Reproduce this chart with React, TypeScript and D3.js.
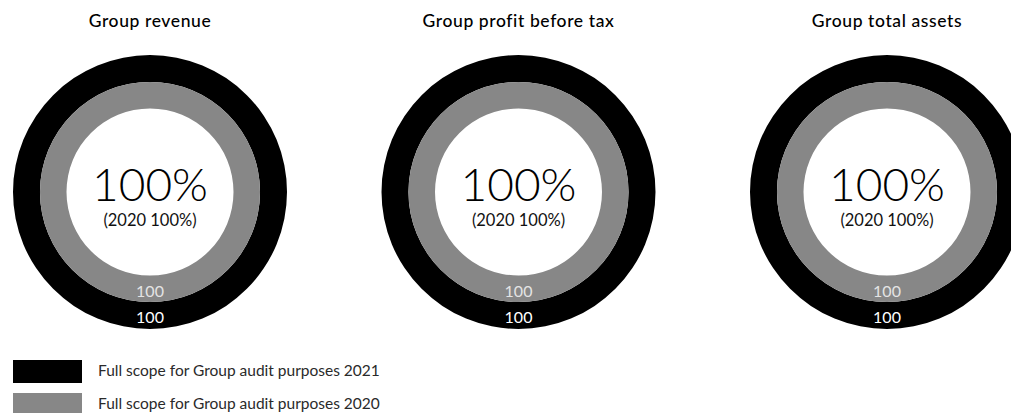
import { useEffect, useRef } from "react";
import * as d3 from "d3";

const titles = ["Group revenue", "Group profit before tax", "Group total assets"];
const scope2021 = [100, 100, 100];
const scope2020 = [100, 100, 100];
const legendLabels = [
  "Full scope for Group audit purposes 2021",
  "Full scope for Group audit purposes 2020",
];

const W = 1011;
const H = 413;
const BLACK = "#000000";
const GREY = "#878787";
const FONT = "Lato, 'Open Sans', sans-serif";

export default function App() {
  const ref = useRef<SVGSVGElement | null>(null);

  useEffect(() => {
    const svg = d3.select(ref.current);
    svg.selectAll("*").remove();

    const x = d3.scalePoint<string>().domain(titles).range([150, 887]);
    const cy = 192;
    const r = { outer: 137, mid: 110, inner: 83.5 };

    const pie = d3.pie<number>().sort(null).value((d) => d);
    const arcOuter = d3.arc<d3.PieArcDatum<number>>().innerRadius(r.mid).outerRadius(r.outer);
    const arcInner = d3.arc<d3.PieArcDatum<number>>().innerRadius(r.inner).outerRadius(r.mid);

    titles.forEach((t, i) => {
      const g = svg.append("g").attr("transform", `translate(${x(t)},${cy})`);

      g.selectAll("path.y21")
        .data(pie([scope2021[i], 100 - scope2021[i]]))
        .join("path")
        .attr("d", arcOuter)
        .attr("fill", (_, j) => (j === 0 ? BLACK : "none"));

      g.selectAll("path.y20")
        .data(pie([scope2020[i], 100 - scope2020[i]]))
        .join("path")
        .attr("d", arcInner)
        .attr("fill", (_, j) => (j === 0 ? GREY : "none"));

      g.append("text")
        .attr("y", 9)
        .attr("text-anchor", "middle")
        .attr("font-family", FONT)
        .attr("font-weight", 300)
        .attr("font-size", 46)
        .attr("fill", "#000")
        .text(`${scope2021[i]}%`);

      g.append("text")
        .attr("y", 34)
        .attr("text-anchor", "middle")
        .attr("font-family", FONT)
        .attr("font-weight", 400)
        .attr("font-size", 16.5)
        .attr("fill", "#111")
        .text(`(2020 ${scope2020[i]}%)`);

      g.append("text")
        .attr("y", 105)
        .attr("text-anchor", "middle")
        .attr("font-family", FONT)
        .attr("font-weight", 400)
        .attr("font-size", 16)
        .attr("fill", "#e4e4e4")
        .text(scope2020[i]);

      g.append("text")
        .attr("y", 131)
        .attr("text-anchor", "middle")
        .attr("font-family", FONT)
        .attr("font-weight", 400)
        .attr("font-size", 16)
        .attr("fill", "#fff")
        .text(scope2021[i]);

      svg.append("text")
        .attr("x", x(t)!)
        .attr("y", 27)
        .attr("text-anchor", "middle")
        .attr("font-family", FONT)
        .attr("font-weight", 500)
        .attr("font-size", 17.5)
        .attr("letter-spacing", 0.6)
        .attr("fill", "#000")
        .text(t);
    });

    // legend
    const ly = d3.scalePoint<string>().domain(legendLabels).range([360, 393]);
    const lg = svg.append("g");
    lg.selectAll("rect")
      .data(legendLabels)
      .join("rect")
      .attr("x", 13)
      .attr("y", (d) => ly(d)!)
      .attr("width", 69)
      .attr("height", 23)
      .attr("fill", (_, i) => (i === 0 ? BLACK : GREY));
    lg.selectAll("text")
      .data(legendLabels)
      .join("text")
      .attr("x", 98)
      .attr("y", (d) => ly(d)! + 16)
      .attr("font-family", FONT)
      .attr("font-weight", 400)
      .attr("font-size", 15.5)
      .attr("fill", "#2a2a2a")
      .text((d) => d);
  }, []);

  return (
    <svg
      ref={ref}
      width={W}
      height={H}
      style={{ position: "absolute", left: 0, top: 0, background: "#fff" }}
    />
  );
}
